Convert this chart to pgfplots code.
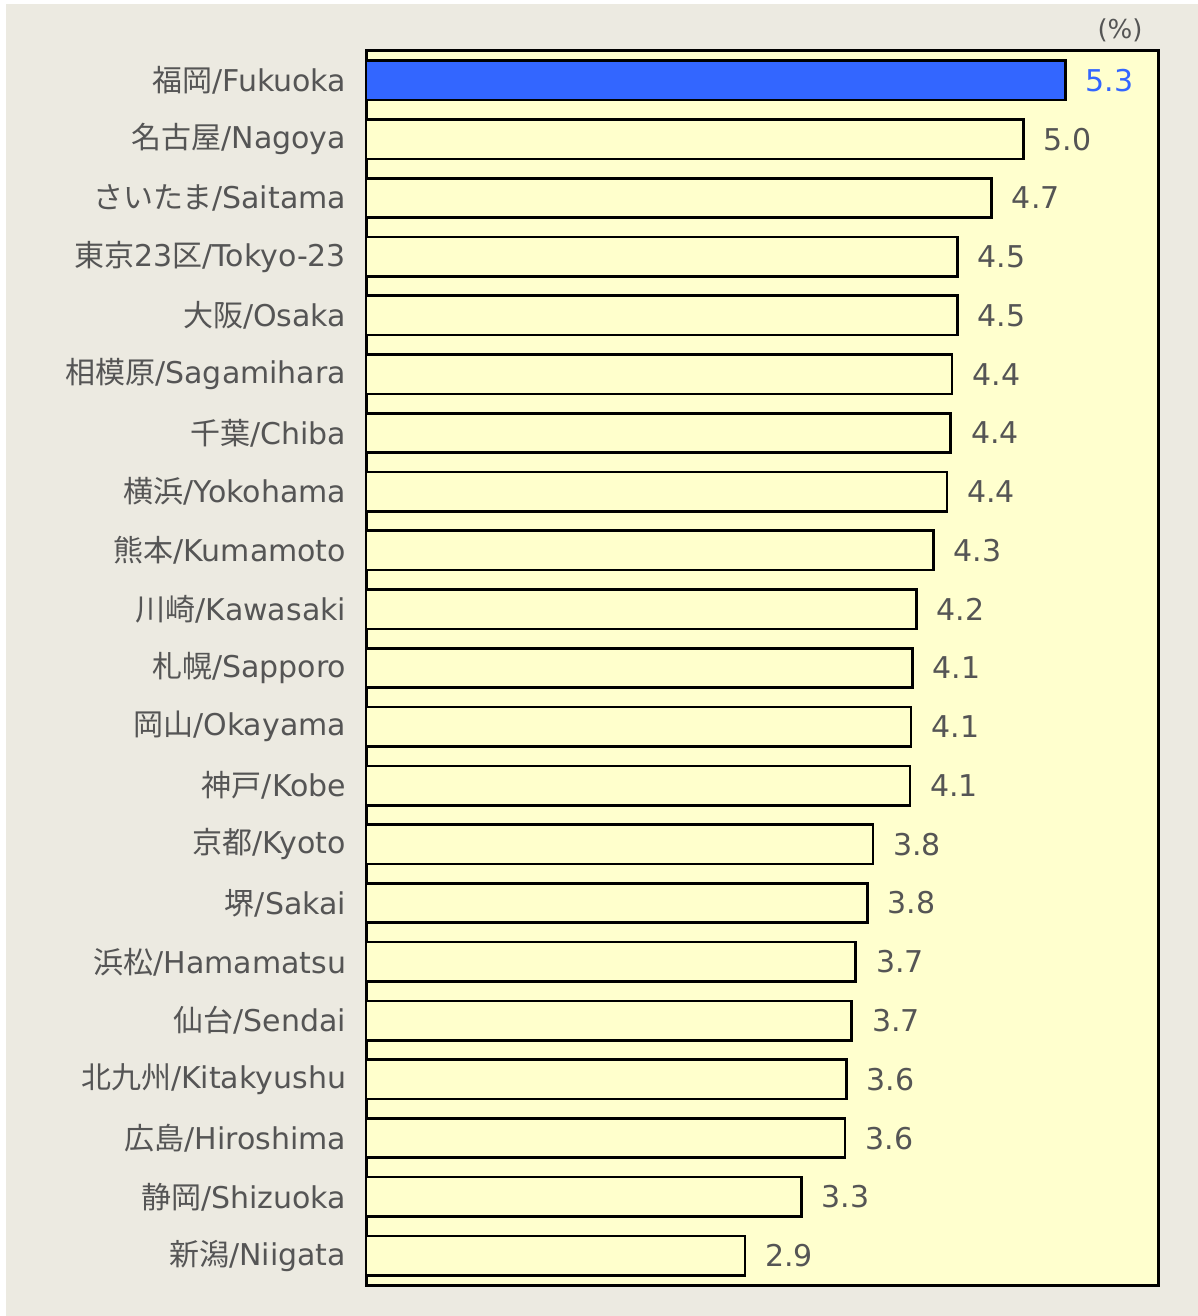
\documentclass[border=0pt]{standalone}
\usepackage{pgfplots}
\pgfplotsset{compat=1.18}
\usepackage{fontspec}
\setmainfont{DejaVu Sans}
\newfontfamily\cjk{Noto Sans CJK JP}
\definecolor{pagebg}{HTML}{ECEAE1}
\definecolor{plotbg}{HTML}{FFFFCE}
\definecolor{barfill}{HTML}{FFFFCC}
\definecolor{hiblue}{HTML}{3366FF}
\definecolor{txt}{HTML}{555555}
\begin{document}
\begin{tikzpicture}
\useasboundingbox (0,0) rectangle (599pt,658pt);
\fill[white] (0,0) rectangle (599pt,658pt);
\fill[pagebg] (3pt,0) rectangle (599pt,656pt);
\begin{axis}[
    at={(183pt,15.5pt)}, anchor=south west,
    scale only axis,
    width=396pt, height=617pt,
    xmin=0, xmax=6,
    ymin=-0.5, ymax=20.5,
    y dir=reverse,
    axis line style={line width=1.5pt, black},
    axis background/.style={fill=plotbg},
    xtick=\empty,
    ytick={0,...,20},
    yticklabels={
        {\cjk 福岡}/Fukuoka,
        {\cjk 名古屋}/Nagoya,
        {\cjk さいたま}/Saitama,
        {\cjk 東京}23{\cjk 区}/Tokyo-23,
        {\cjk 大阪}/Osaka,
        {\cjk 相模原}/Sagamihara,
        {\cjk 千葉}/Chiba,
        {\cjk 横浜}/Yokohama,
        {\cjk 熊本}/Kumamoto,
        {\cjk 川崎}/Kawasaki,
        {\cjk 札幌}/Sapporo,
        {\cjk 岡山}/Okayama,
        {\cjk 神戸}/Kobe,
        {\cjk 京都}/Kyoto,
        {\cjk 堺}/Sakai,
        {\cjk 浜松}/Hamamatsu,
        {\cjk 仙台}/Sendai,
        {\cjk 北九州}/Kitakyushu,
        {\cjk 広島}/Hiroshima,
        {\cjk 静岡}/Shizuoka,
        {\cjk 新潟}/Niigata},
    ytick style={draw=none},
    yticklabel style={font=\fontsize{15}{18}\selectfont, text=txt, anchor=east, inner sep=0pt, xshift=-5.5pt},
    xbar, bar width=0.67, bar shift=0pt,
    point meta=explicit symbolic,
    nodes near coords,
    nodes near coords style={font=\fontsize{15}{18}\selectfont, text=txt, anchor=west, inner sep=0pt, xshift=9.5pt},
    clip=false,
]
\addplot[draw=black, line width=1.3pt, fill=hiblue,
    nodes near coords style={text=hiblue}] coordinates {
    (5.30,0) [5.3]
};
\addplot[draw=black, line width=1.3pt, fill=barfill] coordinates {
    (4.98,1) [5.0]
    (4.74,2) [4.7]
    (4.48,3) [4.5]
    (4.48,4) [4.5]
    (4.44,5) [4.4]
    (4.43,6) [4.4]
    (4.40,7) [4.4]
    (4.30,8) [4.3]
    (4.17,9) [4.2]
    (4.14,10) [4.1]
    (4.13,11) [4.1]
    (4.12,12) [4.1]
    (3.84,13) [3.8]
    (3.80,14) [3.8]
    (3.71,15) [3.7]
    (3.68,16) [3.7]
    (3.64,17) [3.6]
    (3.63,18) [3.6]
    (3.30,19) [3.3]
    (2.87,20) [2.9]
};
\end{axis}
\node[text=txt, font=\fontsize{13}{15}\selectfont] at (560pt,643pt) {(\%)};
\end{tikzpicture}
\end{document}
